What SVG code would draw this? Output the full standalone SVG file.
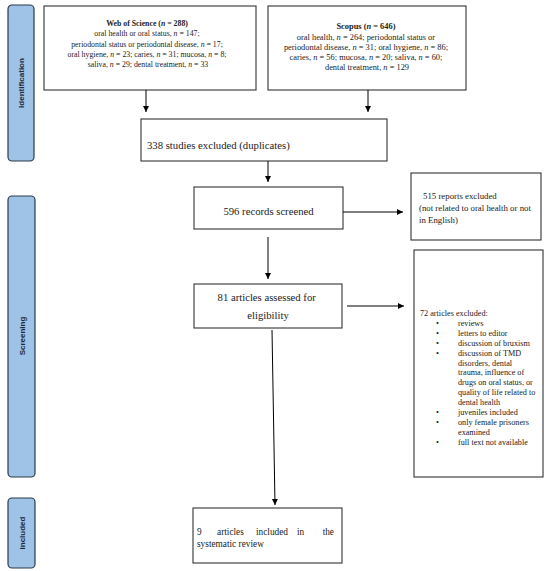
<svg xmlns="http://www.w3.org/2000/svg" width="550" height="571" viewBox="0 0 550 571">
<defs>
<marker id="ah" markerWidth="8" markerHeight="8" refX="6" refY="3.5" orient="auto" markerUnits="userSpaceOnUse">
<path d="M0,0.5 L6,3.5 L0,6.5 Z" fill="#000"/>
</marker>
<style>
.phase{fill:#9fc3e7;stroke:#2b3a4a;stroke-width:1.2}
.plabel{font-family:"Liberation Sans",Arial,sans-serif;font-weight:bold;font-size:8px;fill:#1c2a3a}
.box{fill:#fff;stroke:#333;stroke-width:1.1}
.t{font-family:"Liberation Serif","Times New Roman",serif;fill:#222}
.wos{font-size:7.8px}
.sco{font-size:8.4px}
.rep{font-size:8.8px}
.lst{font-size:8.2px}
.inc{font-size:9.3px}
.big{font-size:10.7px}
.con{stroke:#000;stroke-width:1;fill:none}
</style>
</defs>
<rect width="550" height="571" fill="#fff"/>

<g id="phase-identification">
<rect class="phase" x="8" y="5" width="26" height="156" rx="4"/>
<text class="plabel" transform="translate(24,83) rotate(-90)" text-anchor="middle">Identification</text>
</g>
<g id="phase-screening">
<rect class="phase" x="8" y="196" width="27" height="281" rx="4"/>
<text class="plabel" transform="translate(24.5,336) rotate(-90)" text-anchor="middle">Screening</text>
</g>
<g id="phase-included">
<rect class="phase" x="8" y="498" width="27" height="70" rx="4"/>
<text class="plabel" transform="translate(24.5,533) rotate(-90)" text-anchor="middle">Included</text>
</g>

<g id="node-wos">
<rect class="box" x="44" y="6" width="212" height="84"/>
<text class="t wos" text-anchor="middle" x="148">
<tspan x="148" y="26" font-weight="bold">Web of Science (<tspan font-style="italic">n</tspan> = 288)</tspan>
<tspan x="148" y="36.3">oral health or oral status, <tspan font-style="italic">n</tspan> = 147;</tspan>
<tspan x="148" y="46.6">periodontal status or periodontal disease, <tspan font-style="italic">n</tspan> = 17;</tspan>
<tspan x="148" y="56.9">oral hygiene, <tspan font-style="italic">n</tspan> = 23; caries, <tspan font-style="italic">n</tspan> = 31; mucosa, <tspan font-style="italic">n</tspan> = 8;</tspan>
<tspan x="148" y="67.2">saliva, <tspan font-style="italic">n</tspan> = 29; dental treatment, <tspan font-style="italic">n</tspan> = 33</tspan>
</text>
</g>

<g id="node-scopus">
<rect class="box" x="268" y="6" width="198" height="84"/>
<text class="t sco" text-anchor="middle" x="367">
<tspan x="367" y="29" font-weight="bold">Scopus (<tspan font-style="italic">n</tspan> = 646)</tspan>
<tspan x="367" y="39.5">oral health, <tspan font-style="italic">n</tspan> = 264; periodontal status or</tspan>
<tspan x="367" y="49.7">periodontal disease, <tspan font-style="italic">n</tspan> = 31; oral hygiene, <tspan font-style="italic">n</tspan> = 86;</tspan>
<tspan x="367" y="59.9">caries, <tspan font-style="italic">n</tspan> = 56; mucosa, <tspan font-style="italic">n</tspan> = 20; saliva, <tspan font-style="italic">n</tspan> = 60;</tspan>
<tspan x="367" y="70.1">dental treatment, <tspan font-style="italic">n</tspan> = 129</tspan>
</text>
</g>

<g id="node-duplicates">
<rect class="box" x="141" y="119" width="246" height="42"/>
<text class="t big" x="147" y="148.5">338 studies excluded (duplicates)</text>
</g>

<g id="node-screened">
<rect class="box" x="194" y="187" width="149" height="42"/>
<text class="t big" x="268.5" y="214.5" text-anchor="middle">596 records screened</text>
</g>

<g id="node-reports-excluded">
<rect class="box" x="411" y="173" width="130" height="67"/>
<text class="t rep">
<tspan x="423" y="199">515   reports excluded</tspan>
<tspan x="419" y="211">(not related to oral health or not</tspan>
<tspan x="419" y="223">in English)</tspan>
</text>
</g>

<g id="node-assessed">
<rect class="box" x="194" y="284" width="148" height="44"/>
<text class="t big" text-anchor="middle">
<tspan x="268" y="301">81 articles assessed for</tspan>
<tspan x="268" y="319">eligibility</tspan>
</text>
</g>

<g id="node-articles-excluded">
<rect class="box" x="414" y="250" width="129" height="227"/>
<g class="t lst">
<text x="420" y="316">72 articles excluded:</text>
<text x="436" y="325.9">•</text><text x="458" y="325.9">reviews</text>
<text x="436" y="335.8">•</text><text x="458" y="335.8">letters to editor</text>
<text x="436" y="345.7">•</text><text x="458" y="345.7">discussion of bruxism</text>
<text x="436" y="355.6">•</text><text x="458" y="355.6">discussion of TMD</text>
<text x="458" y="365.5">disorders, dental</text>
<text x="458" y="375.4">trauma, influence of</text>
<text x="458" y="385.3">drugs on oral status, or</text>
<text x="458" y="395.2">quality of life related to</text>
<text x="458" y="405.1">dental health</text>
<text x="436" y="415">•</text><text x="458" y="415">juveniles included</text>
<text x="436" y="424.9">•</text><text x="458" y="424.9">only female prisoners</text>
<text x="458" y="434.8">examined</text>
<text x="436" y="444.7">•</text><text x="458" y="444.7">full text not available</text>
</g>
</g>

<g id="node-included">
<rect class="box" x="193" y="508" width="149" height="55"/>
<g class="t inc">
<text y="535"><tspan x="197">9</tspan><tspan x="217">articles</tspan><tspan x="256">included</tspan><tspan x="297">in</tspan></text>
<text x="334" y="535" text-anchor="end">the</text>
<text x="197" y="546.5">systematic review</text>
</g>
</g>

<g id="connectors">
<line class="con" x1="146" y1="90" x2="146" y2="112" marker-end="url(#ah)"/>
<line class="con" x1="368" y1="90" x2="368" y2="112" marker-end="url(#ah)"/>
<line class="con" x1="268" y1="161" x2="268" y2="182" marker-end="url(#ah)"/>
<line class="con" x1="343" y1="212" x2="403" y2="212" marker-end="url(#ah)"/>
<line class="con" x1="268" y1="237" x2="268" y2="279" marker-end="url(#ah)"/>
<line class="con" x1="347" y1="306" x2="404" y2="306" marker-end="url(#ah)"/>
<line class="con" x1="272" y1="330" x2="275" y2="505" marker-end="url(#ah)"/>
</g>
</svg>
